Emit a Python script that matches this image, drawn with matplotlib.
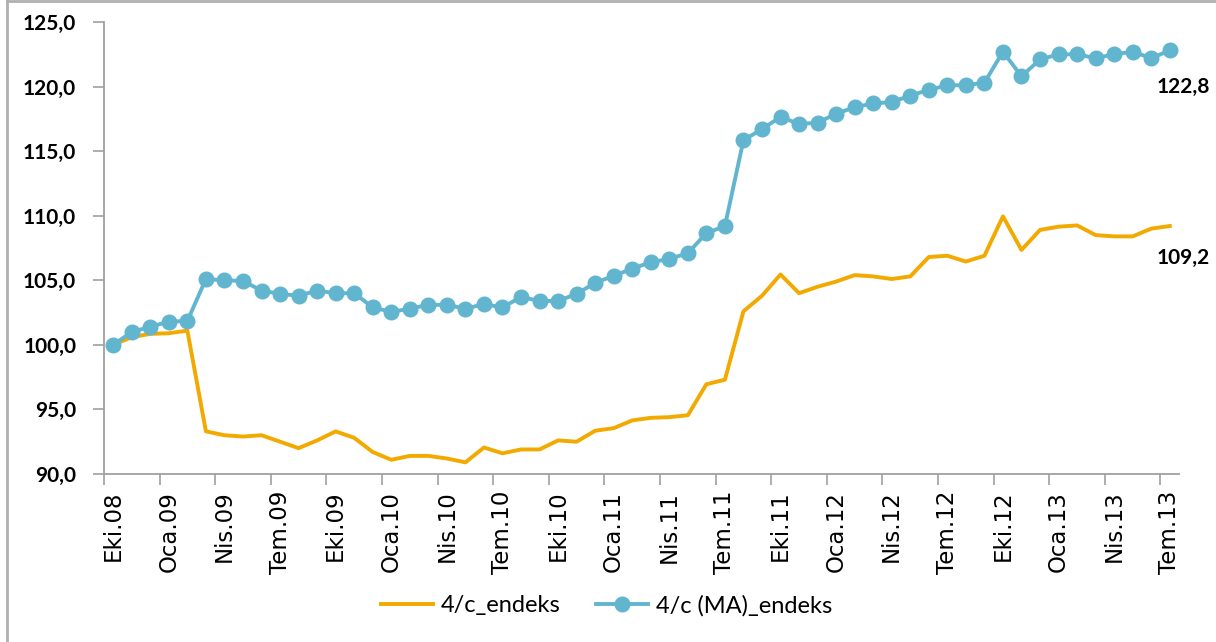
import numpy as np
import matplotlib.pyplot as plt
from matplotlib.lines import Line2D

# months Eki.08 .. Tem.13 (58 monthly values)
months = ['Eki', 'Kas', 'Ara', 'Oca', 'Şub', 'Mar', 'Nis', 'May', 'Haz', 'Tem', 'Ağu', 'Eyl']
labels = []
m, y = 0, 8
for i in range(58):
    labels.append('%s.%02d' % (months[m], y))
    m = (m + 1) % 12
    if m == 3:
        y += 1

endeks = [100.0, 100.6, 100.85, 100.9, 101.1, 93.3, 93.0, 92.9, 93.0, 92.5,
          92.0, 92.6, 93.3, 92.8, 91.7, 91.1, 91.4, 91.4, 91.2, 90.9,
          92.05, 91.6, 91.9, 91.9, 92.6, 92.5, 93.35, 93.55, 94.15, 94.35,
          94.4, 94.55, 96.95, 97.3, 102.6, 103.8, 105.45, 104.0, 104.5, 104.9,
          105.4, 105.3, 105.1, 105.3, 106.8, 106.9, 106.45, 106.9, 109.95, 107.35,
          108.9, 109.15, 109.25, 108.5, 108.4, 108.4, 109.0, 109.2]

ma_endeks = [100.0, 101.0, 101.4, 101.8, 101.85, 105.1, 105.0, 104.95, 104.2, 103.95,
             103.8, 104.2, 104.0, 104.0, 102.9, 102.55, 102.8, 103.1, 103.1, 102.8,
             103.15, 102.9, 103.7, 103.4, 103.4, 103.95, 104.8, 105.35, 105.9, 106.4,
             106.65, 107.1, 108.65, 109.2, 115.85, 116.7, 117.65, 117.1, 117.2, 117.9,
             118.4, 118.7, 118.8, 119.3, 119.75, 120.1, 120.1, 120.3, 122.7, 120.8,
             122.1, 122.5, 122.5, 122.2, 122.5, 122.7, 122.2, 122.8]

orange = '#F2A900'
blue = '#62B5CF'
numfont = 'Lato'

fig = plt.figure(figsize=(12.16, 6.42), dpi=100)
ax = fig.add_axes([0.0855, 0.2617, 0.9696 - 0.0855, 0.9657 - 0.2617])

x = np.arange(len(endeks))
ax.plot(x, endeks, color=orange, lw=2.8, label='4/c_endeks', zorder=2)
ax.plot(x, ma_endeks, color=blue, lw=2.8, marker='o', markersize=10.5,
        label='4/c (MA)_endeks', zorder=3)

ax.set_xlim(-0.5, len(x) - 0.5)
ax.set_ylim(90, 125)
ax.set_yticks(np.arange(90, 126, 5))
ax.set_yticklabels([('%.1f' % v).replace('.', ',') for v in np.arange(90, 126, 5)],
                   fontsize=15, fontfamily=numfont, fontweight='bold')

# tick marks between categories, labels on every third month
ax.set_xticks(np.arange(-0.5, len(x) - 1, 3))
ax.set_xticklabels([])
ax.set_xticks(np.arange(0, len(x), 3), minor=True)
ax.set_xticklabels([labels[i] for i in range(0, len(x), 3)], minor=True,
                   rotation=90, va='top', ha='center')
for t in ax.get_xticklabels(minor=True):
    t.set_fontsize(16.5)
    t.set_fontfamily('DejaVu Sans')
ax.tick_params(axis='x', which='major', length=8, color='#A0A0A0', width=1.2)
ax.tick_params(axis='x', which='minor', length=0, pad=12)
ax.tick_params(axis='y', length=8, color='#A0A0A0', width=1.2, pad=12)

for s in ['top', 'right']:
    ax.spines[s].set_visible(False)
for s in ['left', 'bottom']:
    ax.spines[s].set_color('#A0A0A0')
    ax.spines[s].set_linewidth(1.3)

ax.annotate(('%.1f' % ma_endeks[-1]).replace('.', ','), (x[-1], ma_endeks[-1]),
            xytext=(10, -26), textcoords='offset points', ha='center', va='center',
            fontsize=15, fontfamily=numfont, fontweight='bold')
ax.annotate(('%.1f' % endeks[-1]).replace('.', ','), (x[-1], endeks[-1]),
            xytext=(10, -23), textcoords='offset points', ha='center', va='center',
            fontsize=15, fontfamily=numfont, fontweight='bold')

fig.legend(loc='center', bbox_to_anchor=(0.499, 0.057), ncol=2, frameon=False,
           prop={'family': numfont, 'size': 17}, handlelength=2.2,
           handletextpad=0.35, columnspacing=1.5)

# outer frame lines (left and top)
fig.add_artist(Line2D([7 / 1216, 7 / 1216], [0, 1 - 1 / 642], color='#B0B0B0', lw=2))
fig.add_artist(Line2D([7 / 1216, 1], [1 - 1 / 642, 1 - 1 / 642], color='#B0B0B0', lw=2))

fig.savefig('out.png', dpi=100)
